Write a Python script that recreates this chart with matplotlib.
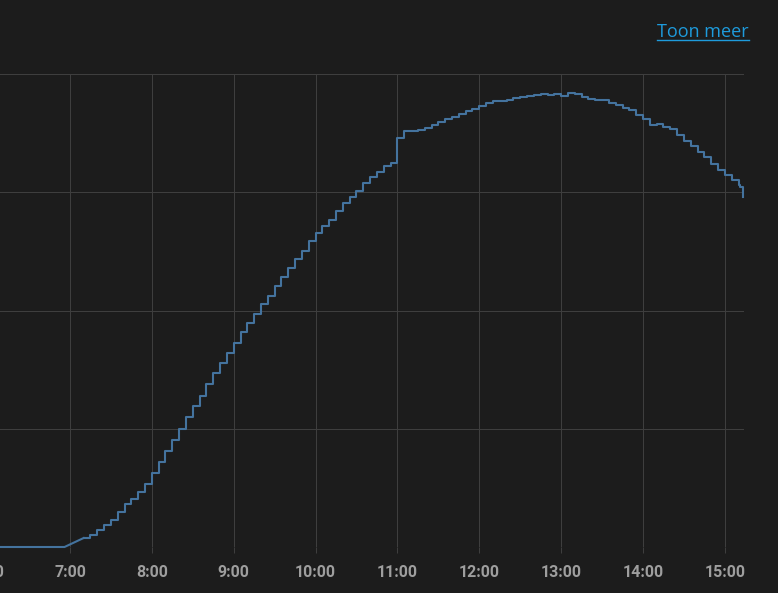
import matplotlib
matplotlib.use("Agg")
import matplotlib.pyplot as plt
from matplotlib.lines import Line2D
from matplotlib.ticker import FixedLocator, FuncFormatter

# solar power readings (W), 5 minute cadence
times = [
    "6:00", "6:56", "7:10", "7:15", "7:20", "7:25", "7:30", "7:35", "7:40", "7:45",
    "7:50", "7:55", "8:00", "8:05", "8:10", "8:15", "8:20", "8:25", "8:30", "8:35",
    "8:40", "8:45", "8:50", "8:55", "9:00", "9:05", "9:10", "9:15", "9:20", "9:25",
    "9:30", "9:35", "9:40", "9:45", "9:50", "9:55", "10:00", "10:05", "10:10", "10:15",
    "10:20", "10:25", "10:30", "10:35", "10:40", "10:45", "10:50", "10:55", "11:00", "11:05",
    "11:10", "11:15", "11:20", "11:25", "11:30", "11:35", "11:40", "11:45", "11:50", "11:55",
    "12:00", "12:05", "12:10", "12:15", "12:20", "12:25", "12:30", "12:35", "12:40", "12:45",
    "12:50", "12:55", "13:00", "13:05", "13:10", "13:15", "13:20", "13:25", "13:30", "13:35",
    "13:40", "13:45", "13:50", "13:55", "14:00", "14:05", "14:10", "14:15", "14:20", "14:25",
    "14:30", "14:35", "14:40", "14:45", "14:50", "14:55", "15:00", "15:05", "15:10", "15:11",
    "15:13",
]
power = [
    0, 0, 76, 101, 144, 186, 228, 296, 364, 406,
    465, 533, 626, 719, 812, 905, 998, 1099, 1192, 1277,
    1378, 1471, 1556, 1641, 1725, 1818, 1894, 1970, 2055, 2123,
    2207, 2283, 2359, 2436, 2503, 2588, 2655, 2715, 2765, 2841,
    2909, 2960, 3011, 3078, 3129, 3171, 3222, 3247, 3459, 3518,
    3518, 3526, 3543, 3569, 3594, 3619, 3636, 3662, 3687, 3704,
    3729, 3755, 3772, 3772, 3780, 3797, 3805, 3814, 3822, 3831,
    3822, 3831, 3814, 3839, 3831, 3805, 3789, 3780, 3780, 3755,
    3738, 3712, 3696, 3653, 3619, 3569, 3577, 3552, 3535, 3484,
    3433, 3391, 3340, 3298, 3239, 3188, 3146, 3104, 3061, 3044,
    2960,
]
hour_ticks = [6, 7, 8, 9, 10, 11, 12, 13, 14, 15]
y_grid = [0, 1000, 2000, 3000, 4000]

BG = "#1c1c1c"
GRID = "#3e3e3e"
LINE = "#44739e"
TICK_TXT = "#9e9e9e"
LINK = "#1e9bdc"


def to_hours(s):
    h, m = s.split(":")
    return int(h) + int(m) / 60


t = [to_hours(s) for s in times]

W, H = 778, 593
fig = plt.figure(figsize=(W / 100, H / 100), dpi=100, facecolor=BG)

# axes: 6:00 sits just off the left edge, plot area ends at x=744
x_left = 6.0
x_right = 15 + 14 / 60
px_per_hour = 81.9
ax_left_px = 70 - px_per_hour
ax_right_px = 744
ax = fig.add_axes([ax_left_px / W, 1 - 547 / H,
                   (ax_right_px - ax_left_px) / W, (547 - 74) / H])
ax.set_facecolor(BG)
ax.set_xlim(x_left, x_right)
ax.set_ylim(y_grid[0], y_grid[-1])

for s in ax.spines.values():
    s.set_visible(False)

ax.xaxis.set_major_locator(FixedLocator(hour_ticks))
ax.xaxis.set_major_formatter(FuncFormatter(lambda v, p: f"{int(v)}:00"))
ax.yaxis.set_major_locator(FixedLocator(y_grid))
ax.set_yticklabels([])
ax.tick_params(axis="y", length=0)
ax.tick_params(axis="x", length=4, width=0.75, color=GRID, pad=9,
               labelcolor=TICK_TXT, labelsize=11.5)
for lab in ax.get_xticklabels():
    lab.set_fontfamily(["Roboto", "DejaVu Sans"])
    lab.set_fontweight("bold")

ax.grid(True, color=GRID, linewidth=0.75)
ax.set_axisbelow(True)

# first part (no data before sunrise) is drawn straight, then stepped
ax.plot(t[:3], power[:3], color=LINE, linewidth=1.5, clip_on=False)
ax.step(t[2:], power[2:], where="post", color=LINE, linewidth=1.5, clip_on=False)

# "Toon meer" link, top right, underlined
txt = fig.text(749 / W, 1 - 37 / H, "Toon meer", ha="right", va="baseline",
               color=LINK, fontsize=13, family=["Open Sans", "DejaVu Sans"])
fig.canvas.draw()
bb = txt.get_window_extent()
uy = H - 39.5
fig.add_artist(Line2D([bb.x0, bb.x1], [uy, uy], transform=None,
                      color=LINK, linewidth=1.0))

fig.savefig("out.png", dpi=100, facecolor=BG)
